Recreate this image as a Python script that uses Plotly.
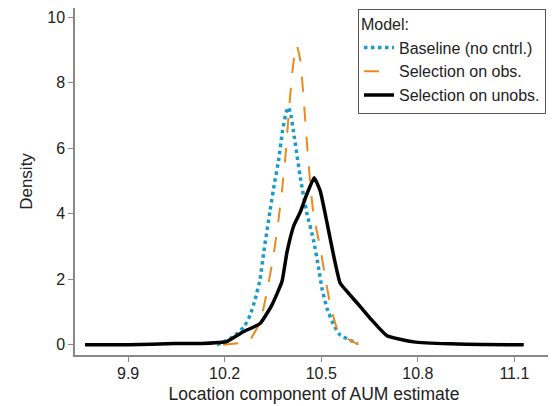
import plotly.graph_objects as go

# Baseline (no cntrl.)
base_x = [10.176, 10.227, 10.26, 10.279, 10.295, 10.31, 10.321, 10.341, 10.355, 10.367, 10.38,
          10.391, 10.398, 10.405, 10.414, 10.435, 10.455, 10.476, 10.492, 10.502, 10.518,
          10.539, 10.559, 10.612]
base_y = [0.0, 0.25, 0.55, 0.9, 1.4, 2.0, 2.8, 4.1, 4.95, 5.6, 6.55,
          7.1, 7.25, 7.05, 6.5, 5.1, 4.03, 3.2, 2.34, 1.73, 1.11,
          0.6, 0.3, 0.04]

# Selection on obs.
obs_x = [10.195, 10.25, 10.274, 10.31, 10.331, 10.352, 10.367, 10.378, 10.39, 10.40,
         10.41, 10.418, 10.424, 10.435, 10.445, 10.455, 10.466, 10.476, 10.497, 10.513, 10.528,
         10.549, 10.57, 10.616]
obs_y = [0.0, 0.06, 0.09, 0.7, 1.6, 2.75, 3.8, 4.7, 5.9, 7.2,
         8.3, 8.95, 9.14, 8.68, 7.56, 6.23, 4.9, 3.98, 2.95, 2.03, 1.22,
         0.5, 0.25, 0.01]

# Selection on unobs.
unobs_x = [9.766, 9.9, 10.046, 10.13, 10.18, 10.207, 10.258, 10.31, 10.347, 10.378,
           10.393, 10.414, 10.435, 10.455, 10.478, 10.497, 10.518, 10.539, 10.559,
           10.59, 10.626, 10.652, 10.704, 10.787, 10.9, 11.0, 11.129]
unobs_y = [0.0, 0.0, 0.04, 0.04, 0.07, 0.1, 0.4, 0.65, 1.22, 1.93,
           2.8, 3.62, 4.06, 4.59, 5.1, 4.69, 3.72, 2.7, 1.88,
           1.52, 1.11, 0.81, 0.28, 0.09, 0.03, 0.01, 0.0]

x_ticks = [9.9, 10.2, 10.5, 10.8, 11.1]
x_tick_labels = ["9.9", "10.2", "10.5", "10.8", "11.1"]
y_ticks = [0, 2, 4, 6, 8, 10]

fig = go.Figure()
fig.add_trace(go.Scatter(x=base_x, y=base_y, mode="lines", name="Baseline (no cntrl.)",
                         line=dict(color="#1b9bca", width=3.5, dash="dot", shape="spline", smoothing=0.4)))
fig.add_trace(go.Scatter(x=obs_x, y=obs_y, mode="lines", name="Selection on obs.",
                         line=dict(color="#e98a1d", width=2, dash="longdash", shape="spline", smoothing=0.4)))
fig.add_trace(go.Scatter(x=unobs_x, y=unobs_y, mode="lines", name="Selection on unobs.",
                         line=dict(color="black", width=3.5, shape="spline", smoothing=0.4)))

font_family = "Liberation Sans, Arial, sans-serif"
# page body has an 8px margin, so the figure is sized 548x398
fig.update_layout(
    width=548, height=398,
    margin=dict(l=67, r=3, t=0, b=51, autoexpand=False),
    paper_bgcolor="white", plot_bgcolor="white",
    font=dict(family=font_family, size=16, color="#222"),
    showlegend=True,
    legend=dict(
        x=0.592, xanchor="left", y=0.998, yanchor="top",
        title=dict(text="Model:", font=dict(size=16)),
        bordercolor="#555", borderwidth=1, bgcolor="white",
        font=dict(size=16), tracegroupgap=0, itemwidth=30,
    ),
    xaxis=dict(
        range=[9.735, 11.22], tickvals=x_ticks, ticktext=x_tick_labels,
        showgrid=False, zeroline=False, showline=True, linecolor="#888", linewidth=1.5,
        ticks="outside", ticklen=5, tickcolor="#888", automargin=False,
        tickfont=dict(size=16), ticklabelstandoff=-2,
        title=dict(text="Location component of AUM estimate", standoff=7, font=dict(size=17.5)),
    ),
    yaxis=dict(
        range=[-0.31, 10.28], tickvals=y_ticks,
        showgrid=False, zeroline=False, showline=True, linecolor="#888", linewidth=1.5,
        ticks="outside", ticklen=5, tickcolor="#888", automargin=False,
        tickfont=dict(size=16),
        title=dict(text="Density", standoff=10, font=dict(size=17)),
    ),
)
fig.write_html("out.html")
